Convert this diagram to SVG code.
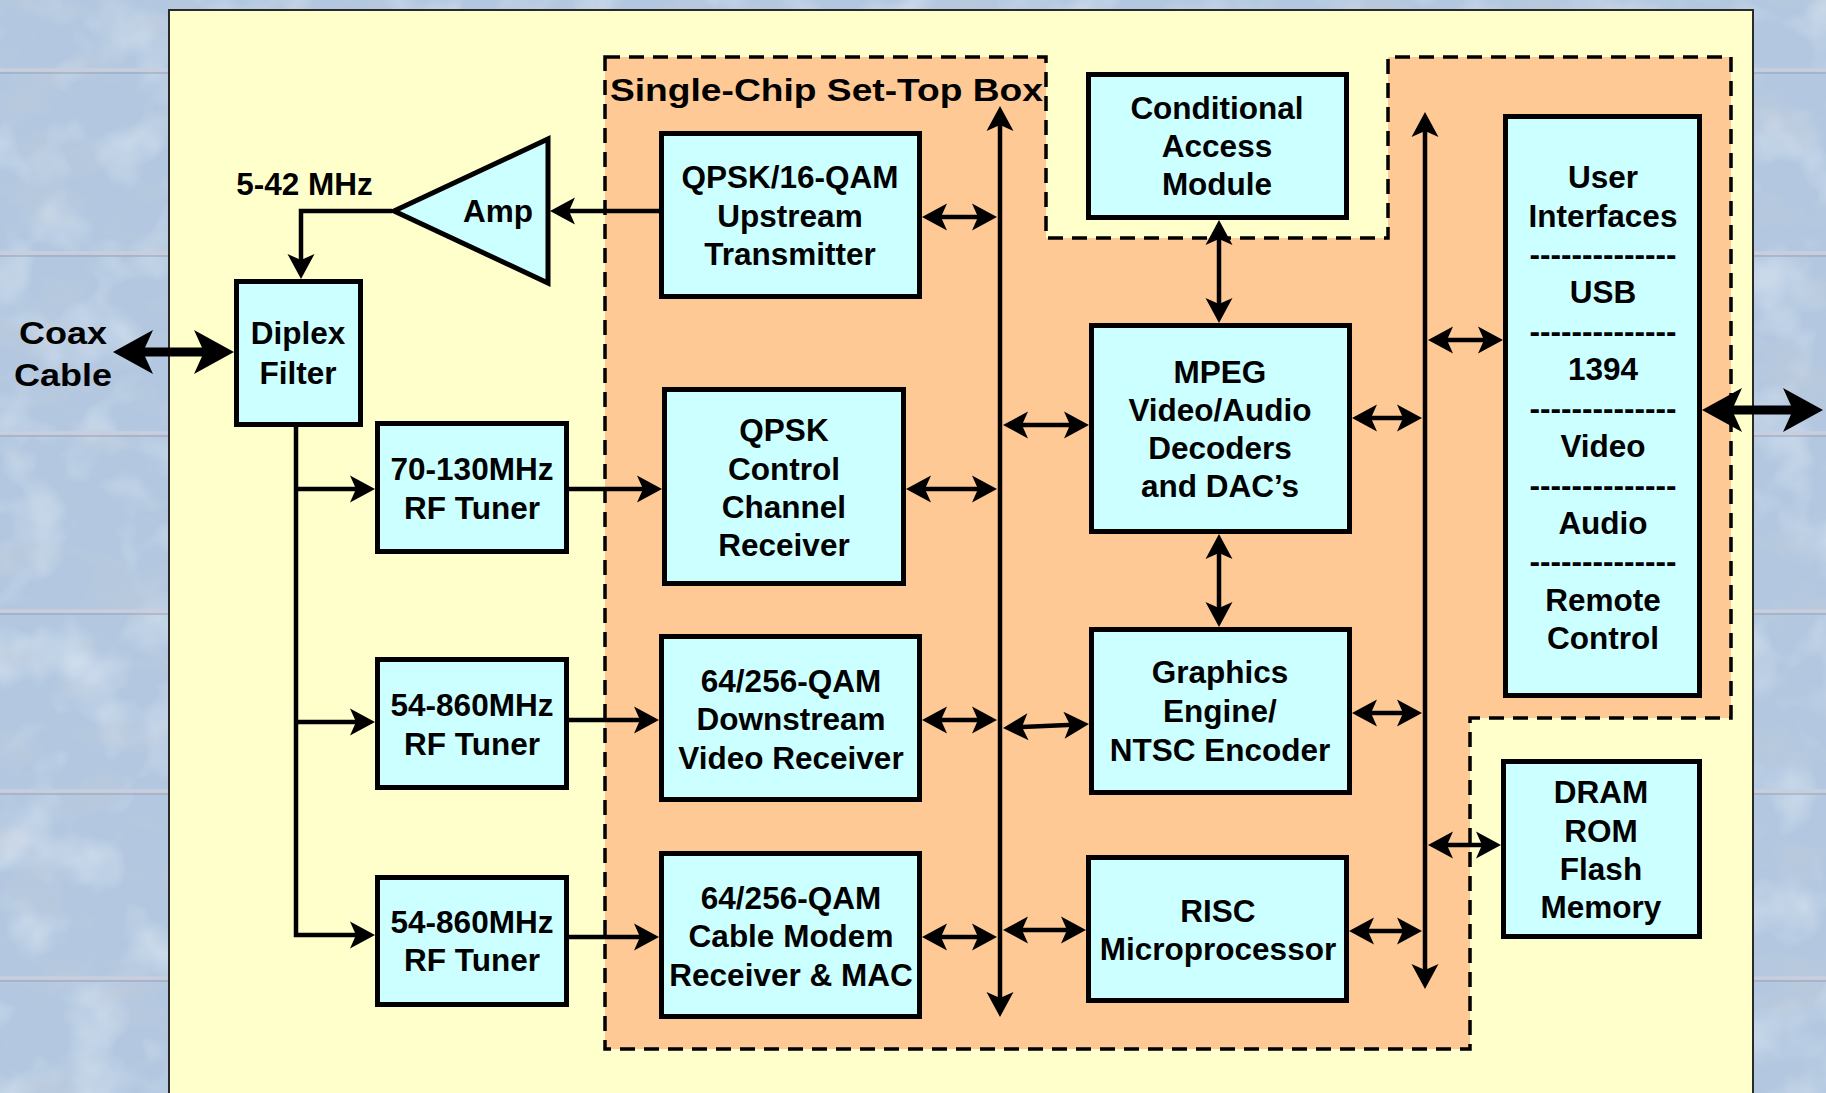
<svg xmlns="http://www.w3.org/2000/svg" width="1826" height="1093" viewBox="0 0 1826 1093">
  <style>
    .node rect, .node polygon { fill: #ccffff; stroke: #000; stroke-width: 5; }
    text { font-family: "Liberation Sans", Arial, Helvetica, sans-serif; font-weight: bold; font-size: 31.5px; fill: #000; text-anchor: middle; }
    .conn path { fill: none; stroke: #000; stroke-width: 4.5; }
    .conn path.thick { stroke-width: 9; }
    .one { marker-end: url(#ah); }
    .two { marker-start: url(#ah); marker-end: url(#ah); }
    .big { marker-start: url(#ahBig); marker-end: url(#ahBig); }
    .mortar { stroke: #c9cedc; stroke-width: 3.5; }
    .mortar-shade { stroke: #93a5bd; stroke-width: 1.5; opacity: 0.7; }
  </style>
  <defs>
    <!-- barbed arrowhead; tip sits 10px beyond the path end -->
    <marker id="ah" viewBox="-26 -15 28 30" refX="-10" refY="0" markerWidth="28" markerHeight="30" markerUnits="userSpaceOnUse" orient="auto-start-reverse">
      <path d="M0,0 L-25,-13.5 L-19,0 L-25,13.5 Z" fill="#000"/>
    </marker>
    <!-- heavy arrowhead for the external cable / interface links -->
    <marker id="ahBig" viewBox="-42 -24 44 48" refX="-18" refY="0" markerWidth="44" markerHeight="48" markerUnits="userSpaceOnUse" orient="auto-start-reverse">
      <path d="M0,0 L-40,-22 L-30,0 L-40,22 Z" fill="#000"/>
    </marker>
    <!-- mottled stone surface: soft grey-blue patches and pale areas -->
    <filter id="stoneDark" x="0" y="0" width="100%" height="100%">
      <feTurbulence type="fractalNoise" baseFrequency="0.012 0.022" numOctaves="4" seed="7" result="n"/>
      <feColorMatrix in="n" type="matrix" values="0 0 0 0 0.55  0 0 0 0 0.6  0 0 0 0 0.68  2.6 0 0 0 -1.35"/>
    </filter>
    <filter id="stoneLight" x="0" y="0" width="100%" height="100%">
      <feTurbulence type="fractalNoise" baseFrequency="0.016" numOctaves="3" seed="21" result="n"/>
      <feColorMatrix in="n" type="matrix" values="0 0 0 0 0.8  0 0 0 0 0.86  0 0 0 0 0.93  0 2.4 0 0 -1.15"/>
    </filter>
  </defs>

  <!-- stone wall backdrop -->
  <rect x="0" y="0" width="1826" height="1093" fill="#b3c8e0"/>
  <rect x="0" y="0" width="1826" height="1093" filter="url(#stoneLight)" opacity="0.55"/>
  <rect x="0" y="0" width="1826" height="1093" filter="url(#stoneDark)" opacity="0.5"/>
  <g>
    <line class="mortar" x1="0" y1="70" x2="1826" y2="70"/>
    <line class="mortar" x1="0" y1="253" x2="1826" y2="253"/>
    <line class="mortar" x1="0" y1="433" x2="1826" y2="433"/>
    <line class="mortar" x1="0" y1="611" x2="1826" y2="611"/>
    <line class="mortar" x1="0" y1="791" x2="1826" y2="791"/>
    <line class="mortar" x1="0" y1="978" x2="1826" y2="978"/>
    <line class="mortar-shade" x1="0" y1="73" x2="1826" y2="73"/>
    <line class="mortar-shade" x1="0" y1="256" x2="1826" y2="256"/>
    <line class="mortar-shade" x1="0" y1="436" x2="1826" y2="436"/>
    <line class="mortar-shade" x1="0" y1="614" x2="1826" y2="614"/>
    <line class="mortar-shade" x1="0" y1="794" x2="1826" y2="794"/>
    <line class="mortar-shade" x1="0" y1="981" x2="1826" y2="981"/>
  </g>

  <!-- main panel -->
  <rect x="169" y="10" width="1584" height="1100" fill="#ffffcc" stroke="#2a2a2a" stroke-width="2"/>

  <!-- single-chip region -->
  <g id="chip-region">
    <path d="M605,57 H1046 V238 H1388 V57 H1731 V718 H1470 V1049 H605 Z" fill="#ffc995" stroke="#000" stroke-width="3.5" stroke-dasharray="15 9"/>
    <text x="610" y="101" font-size="36" textLength="433" lengthAdjust="spacingAndGlyphs" style="text-anchor:start">Single-Chip Set-Top Box</text>
  </g>

  <!-- connectors -->
  <g id="connectors" class="conn">
    <path class="one" d="M659,211 H560"/>
    <path class="one" d="M392,211 H301 V269"/>
    <path class="thick big" d="M131,352 H216"/>
    <path class="one" d="M296,427 V935 H365"/>
    <path class="one" d="M296,489 H365"/>
    <path class="one" d="M296,722 H365"/>
    <path class="one" d="M569,489 H652"/>
    <path class="one" d="M569,720 H649"/>
    <path class="one" d="M569,937 H649"/>
    <path class="two" d="M932,217 H987"/>
    <path class="two" d="M916,489 H987"/>
    <path class="two" d="M932,720 H987"/>
    <path class="two" d="M932,937 H987"/>
    <path class="two" d="M1000,116 V1007"/>
    <path class="two" d="M1013,425 H1079"/>
    <path class="two" d="M1013,727.5 L1079,724.5"/>
    <path class="two" d="M1013,930 H1076"/>
    <path class="two" d="M1219,230 V313"/>
    <path class="two" d="M1219,544 V617"/>
    <path class="two" d="M1425,122 V979"/>
    <path class="two" d="M1362,418 H1412"/>
    <path class="two" d="M1362,713 H1412"/>
    <path class="two" d="M1359,931 H1412"/>
    <path class="two" d="M1438,340 H1493"/>
    <path class="two" d="M1438,845 H1491"/>
    <path class="thick big" d="M1720,410 H1805"/>
  </g>

  <!-- labels outside boxes -->
  <g id="coax-label">
    <text x="63" y="344" font-size="37" textLength="88" lengthAdjust="spacingAndGlyphs">Coax</text>
    <text x="63" y="386" font-size="37" textLength="98" lengthAdjust="spacingAndGlyphs">Cable</text>
  </g>
  <g id="band-label">
    <text x="304.5" y="195">5-42 MHz</text>
  </g>

  <!-- nodes -->
  <g id="amp" class="node">
    <polygon points="394,211 548,139 548,283"/>
    <text x="498" y="222">Amp</text>
  </g>
  <g id="diplex" class="node">
    <rect x="236.5" y="281.5" width="124" height="143"/>
    <text x="298" y="344">Diplex</text>
    <text x="298" y="384">Filter</text>
  </g>
  <g id="tuner1" class="node">
    <rect x="377.5" y="423.5" width="189" height="128"/>
    <text x="472" y="480">70-130MHz</text>
    <text x="472" y="519">RF Tuner</text>
  </g>
  <g id="tuner2" class="node">
    <rect x="377.5" y="659.5" width="189" height="128"/>
    <text x="472" y="716">54-860MHz</text>
    <text x="472" y="755">RF Tuner</text>
  </g>
  <g id="tuner3" class="node">
    <rect x="377.5" y="877.5" width="189" height="127"/>
    <text x="472" y="933">54-860MHz</text>
    <text x="472" y="971">RF Tuner</text>
  </g>
  <g id="upstream" class="node">
    <rect x="661.5" y="133.5" width="258" height="163"/>
    <text x="790" y="188">QPSK/16-QAM</text>
    <text x="790" y="227">Upstream</text>
    <text x="790" y="265">Transmitter</text>
  </g>
  <g id="qpsk-control" class="node">
    <rect x="664.5" y="389.5" width="239" height="194"/>
    <text x="784" y="441">QPSK</text>
    <text x="784" y="480">Control</text>
    <text x="784" y="518">Channel</text>
    <text x="784" y="556">Receiver</text>
  </g>
  <g id="downstream" class="node">
    <rect x="661.5" y="636.5" width="258" height="163"/>
    <text x="791" y="692">64/256-QAM</text>
    <text x="791" y="730">Downstream</text>
    <text x="791" y="769">Video Receiver</text>
  </g>
  <g id="cable-modem" class="node">
    <rect x="661.5" y="853.5" width="258" height="163"/>
    <text x="791" y="909">64/256-QAM</text>
    <text x="791" y="947">Cable Modem</text>
    <text x="791" y="986">Receiver &amp; MAC</text>
  </g>
  <g id="cond-access" class="node">
    <rect x="1088.5" y="74.5" width="258" height="143"/>
    <text x="1217" y="119">Conditional</text>
    <text x="1217" y="157">Access</text>
    <text x="1217" y="195">Module</text>
  </g>
  <g id="mpeg" class="node">
    <rect x="1091.5" y="325.5" width="258" height="206"/>
    <text x="1220" y="383">MPEG</text>
    <text x="1220" y="421">Video/Audio</text>
    <text x="1220" y="459">Decoders</text>
    <text x="1220" y="497">and DAC’s</text>
  </g>
  <g id="graphics" class="node">
    <rect x="1091.5" y="629.5" width="258" height="163"/>
    <text x="1220" y="683">Graphics</text>
    <text x="1220" y="722">Engine/</text>
    <text x="1220" y="761">NTSC Encoder</text>
  </g>
  <g id="risc" class="node">
    <rect x="1088.5" y="857.5" width="258" height="143"/>
    <text x="1218" y="922">RISC</text>
    <text x="1218" y="960">Microprocessor</text>
  </g>
  <g id="user-interfaces" class="node">
    <rect x="1505.5" y="116.5" width="194" height="579"/>
    <text x="1603" y="188">User</text>
    <text x="1603" y="226.5">Interfaces</text>
    <text x="1603" y="265">--------------</text>
    <text x="1603" y="303">USB</text>
    <text x="1603" y="342">--------------</text>
    <text x="1603" y="380">1394</text>
    <text x="1603" y="419">--------------</text>
    <text x="1603" y="457">Video</text>
    <text x="1603" y="496">--------------</text>
    <text x="1603" y="534">Audio</text>
    <text x="1603" y="572">--------------</text>
    <text x="1603" y="611">Remote</text>
    <text x="1603" y="649">Control</text>
  </g>
  <g id="memory" class="node">
    <rect x="1503.5" y="761.5" width="196" height="175"/>
    <text x="1601" y="803">DRAM</text>
    <text x="1601" y="842">ROM</text>
    <text x="1601" y="880">Flash</text>
    <text x="1601" y="918">Memory</text>
  </g>
</svg>
